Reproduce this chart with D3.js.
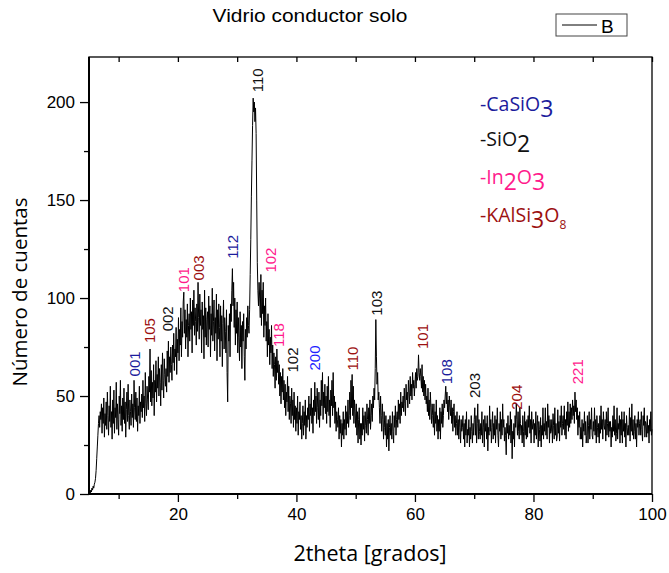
<!DOCTYPE html>
<html>
<head>
<meta charset="utf-8">
<script src="https://cdn.jsdelivr.net/npm/d3@7"></script>
<style>
  body { margin: 0; background: #fff; }
  svg { display: block; }
</style>
</head>
<body>
<svg id="chart" width="669" height="573"></svg>
<script>
// XRD scan: counts sampled every 0.1 degrees of 2theta, from 5 to 100 (one row per degree)
const angleStart = 5;
const angleStep = 0.1;
const counts = [
  0, 1, 0, 2, 1, 3, 2, 4, 3, 5,
  6, 8, 12, 18, 24, 30, 36, 40, 34, 42,
  38, 46, 31, 44, 36, 49, 29, 41, 35, 47,
  33, 52, 40, 30, 45, 37, 55, 34, 42, 28,
  48, 36, 53, 31, 44, 39, 57, 33, 46, 38,
  30, 50, 41, 58, 35, 45, 32, 49, 38, 54,
  36, 47, 29, 43, 52, 37, 56, 40, 33, 48,
  42, 35, 51, 39, 46, 34, 58, 44, 38, 52,
  37, 49, 32, 45, 40, 55, 36, 47, 42, 51,
  39, 58, 44, 50, 37, 62, 46, 40, 55, 48,
  43, 60, 52, 74, 47, 63, 45, 57, 49, 66,
  40, 58, 52, 68, 47, 61, 54, 70, 50, 64,
  57, 45, 66, 53, 72, 58, 49, 69, 61, 55,
  64, 52, 73, 60, 78, 57, 70, 62, 75, 66,
  58, 76, 67, 82, 63, 74, 70, 85, 61, 79,
  72, 90, 68, 84, 76, 95, 70, 88, 80, 98,
  103, 82, 94, 74, 89, 80, 97, 70, 86, 92,
  78, 100, 84, 93, 72, 99, 86, 104, 81, 95,
  88, 76, 97, 83, 108, 90, 79, 102, 86, 94,
  72, 98, 84, 91, 69, 104, 80, 95, 76, 89,
  93, 75, 101, 84, 96, 70, 92, 81, 105, 78,
  88, 99, 73, 90, 82, 102, 68, 94, 79, 97,
  85, 70, 96, 78, 91, 65, 87, 99, 74, 90,
  83, 72, 94, 62, 47, 86, 78, 92, 70, 97,
  88, 104, 115, 96, 108, 85, 100, 76, 94, 82,
  98, 72, 90, 80, 68, 93, 75, 86, 64, 88,
  78, 92, 70, 58, 84, 74, 90, 80, 96, 86,
  82, 94, 112, 130, 152, 170, 188, 202, 195, 200,
  190, 197, 184, 150, 118, 104, 96, 108, 100, 90,
  112, 86, 104, 92, 108, 80, 96, 86, 100, 78,
  88, 70, 92, 76, 84, 66, 80, 72, 86, 64,
  76, 60, 72, 66, 54, 70, 58, 74, 62, 68,
  56, 66, 50, 62, 46, 60, 52, 64, 48, 58,
  44, 56, 40, 52, 47, 60, 42, 55, 38, 50,
  46, 36, 54, 40, 48, 34, 52, 38, 45, 32,
  44, 36, 50, 30, 42, 38, 47, 33, 40, 28,
  36, 45, 30, 42, 35, 48, 28, 40, 34, 44,
  38, 50, 32, 46, 40, 54, 36, 44, 31, 48,
  40, 57, 42, 50, 36, 54, 44, 38, 52, 34,
  48, 40, 58, 45, 62, 38, 52, 44, 56, 41,
  50, 36, 55, 42, 60, 40, 48, 34, 53, 45,
  58, 40, 62, 44, 50, 36, 47, 32, 42, 38,
  34, 44, 28, 40, 31, 38, 24, 36, 30, 42,
  28, 38, 33, 45, 30, 42, 36, 48, 34, 40,
  52, 38, 58, 44, 61, 40, 55, 36, 48, 42,
  34, 46, 30, 42, 26, 38, 44, 28, 36, 25,
  36, 30, 44, 33, 40, 27, 42, 35, 31, 46,
  38, 30, 44, 36, 48, 33, 40, 46, 37, 50,
  44, 54, 48, 64, 89, 70, 56, 62, 48, 52,
  44, 36, 50, 40, 32, 46, 38, 28, 42, 34,
  30, 40, 24, 36, 28, 38, 22, 34, 40, 30,
  36, 28, 42, 32, 26, 40, 34, 45, 30, 38,
  42, 34, 48, 38, 46, 36, 52, 40, 47, 44,
  50, 42, 54, 46, 40, 56, 48, 52, 44, 58,
  52, 46, 60, 50, 56, 48, 62, 54, 58, 50,
  56, 62, 54, 64, 58, 60, 71, 62, 58, 64,
  60, 54, 66, 52, 60, 50, 58, 48, 56, 46,
  50, 42, 54, 40, 48, 38, 52, 44, 36, 46,
  40, 34, 46, 30, 42, 36, 48, 32, 40, 28,
  38, 32, 44, 28, 42, 36, 46, 34, 40, 48,
  44, 50, 55, 46, 52, 42, 48, 38, 50, 44,
  40, 48, 36, 44, 32, 42, 46, 34, 40, 30,
  36, 42, 30, 38, 28, 40, 34, 26, 38, 32,
  34, 40, 28, 36, 24, 38, 30, 42, 26, 33,
  30, 38, 24, 34, 28, 40, 32, 26, 36, 30,
  38, 44, 30, 40, 26, 36, 46, 28, 38, 32,
  28, 36, 30, 42, 26, 34, 38, 24, 40, 32,
  36, 28, 40, 22, 34, 30, 45, 32, 38, 26,
  34, 42, 28, 36, 30, 40, 26, 38, 33, 44,
  30, 24, 36, 32, 42, 28, 38, 30, 46, 34,
  38, 27, 34, 30, 20, 36, 31, 40, 28, 35,
  30, 42, 26, 38, 18, 32, 28, 36, 24, 40,
  34, 46, 38, 30, 42, 32, 28, 44, 36, 30,
  35, 26, 40, 32, 24, 42, 30, 37, 28, 38,
  29, 40, 34, 45, 31, 38, 26, 42, 33, 36,
  38, 26, 36, 30, 42, 28, 35, 40, 24, 37,
  33, 27, 39, 24, 35, 30, 44, 28, 36, 32,
  44, 30, 37, 28, 46, 34, 40, 26, 38, 31,
  32, 38, 26, 41, 35, 28, 44, 30, 36, 27,
  29, 43, 31, 37, 27, 40, 34, 45, 30, 36,
  40, 33, 45, 30, 38, 28, 42, 35, 47, 32,
  42, 34, 46, 36, 44, 38, 48, 40, 45, 36,
  52, 42, 48, 38, 44, 30, 40, 34, 42, 28,
  34, 28, 38, 24, 36, 32, 42, 30, 37, 26,
  30, 40, 26, 35, 42, 28, 38, 33, 44, 30,
  28, 37, 32, 44, 30, 38, 26, 40, 34, 29,
  36, 26, 40, 31, 45, 33, 38, 28, 42, 35,
  33, 38, 27, 42, 30, 36, 44, 29, 37, 32,
  37, 24, 34, 29, 40, 32, 45, 30, 38, 27,
  31, 44, 28, 36, 33, 40, 26, 38, 30, 42,
  26, 38, 32, 42, 29, 36, 24, 40, 34, 30,
  35, 30, 44, 27, 39, 32, 46, 30, 38, 28,
  32, 40, 28, 36, 24, 38, 34, 42, 30, 36,
  38, 30, 42, 33, 27, 40, 35, 44, 29, 37,
  36, 29, 40, 31, 35, 26, 38, 32, 42, 30,
  33
];

const xDomain = [5, 100];
const yDomain = [0, 223];
const xMajorTicks = [20, 40, 60, 80, 100];
const xMinorTicks = [10, 30, 50, 70, 90];
const yMajorTicks = [0, 50, 100, 150, 200];
const yMinorTicks = [25, 75, 125, 175];

// Phase colours
const phaseColor = {
  CaSiO3: "#1c1c9c",
  CaSiO3b: "#1f1fff",
  SiO2: "#111111",
  In2O3: "#ff1a8c",
  KAlSi3O8: "#9c1010"
};

// Miller-index labels: text, 2theta of the label, count where the label starts, phase
const peakText  = ["001", "105", "002", "101", "003", "112", "110", "102", "118", "102", "200", "110", "103", "101", "108", "203", "204", "221"];
const peakAngle = [12.76, 15.29, 18.33, 21.03, 23.56, 29.3, 33.4, 35.71, 37.06, 39.42, 43.14, 49.55, 53.6, 61.36, 65.41, 70.14, 77.22, 87.52];
const peakCount = [60, 77, 83, 103, 109, 120, 205, 113, 75, 62, 63, 63, 91, 74, 56, 49, 43, 56];
const peakPhase = ["CaSiO3", "KAlSi3O8", "SiO2", "In2O3", "KAlSi3O8", "CaSiO3", "SiO2", "In2O3", "In2O3", "SiO2", "CaSiO3b", "KAlSi3O8", "SiO2", "KAlSi3O8", "CaSiO3", "SiO2", "KAlSi3O8", "In2O3"];

// Phase key: formula pieces (n = normal, s = subscript, t = small subscript)
const phaseKeys = [
  { phase: "CaSiO3",   parts: [["-CaSiO", "n"], ["3", "s"]] },
  { phase: "SiO2",     parts: [["-SiO", "n"], ["2", "s"]] },
  { phase: "In2O3",    parts: [["-In", "n"], ["2", "s"], ["O", "n"], ["3", "s"]] },
  { phase: "KAlSi3O8", parts: [["-KAlSi", "n"], ["3", "s"], ["O", "n"], ["8", "t"]] }
];

const titleText = "Vidrio conductor solo";
const legendText = "B";
const xLabel = "2theta [grados]";
const yLabel = "Número de cuentas";

const svg = d3.select("#chart");
const plot = { left: 89, right: 652, top: 57, bottom: 494 };

const x = d3.scaleLinear().domain(xDomain).range([plot.left, plot.right]);
const y = d3.scaleLinear().domain(yDomain).range([plot.bottom, plot.top]);

const arial = "'Liberation Sans', Arial, sans-serif";
const humanist = "'Open Sans', 'Noto Sans', sans-serif";

// Frame (top and right edges)
svg.append("rect")
  .attr("x", plot.left).attr("y", plot.top)
  .attr("width", plot.right - plot.left).attr("height", plot.bottom - plot.top)
  .attr("fill", "none").attr("stroke", "#000").attr("stroke-width", 1.3);

// Scan trace
const series = counts.map((c, i) => ({ angle: angleStart + i * angleStep, c }));
const line = d3.line().x(d => x(d.angle)).y(d => y(d.c));
svg.append("path")
  .datum(series)
  .attr("d", line)
  .attr("fill", "none")
  .attr("stroke", "#000")
  .attr("stroke-width", 1)
  .attr("stroke-linejoin", "miter");

function styleAxis(g, fontSize) {
  g.selectAll("text").attr("font-family", arial).attr("font-size", fontSize).attr("fill", "#000");
  g.selectAll("line").attr("stroke", "#000").attr("stroke-width", 1.3);
}

// Bottom axis
const xMinorG = svg.append("g").attr("transform", `translate(0,${plot.bottom})`)
  .call(d3.axisBottom(x).tickValues(xMinorTicks).tickSize(5).tickFormat(""));
xMinorG.select(".domain").remove();
styleAxis(xMinorG, 17);
const xAxisG = svg.append("g").attr("transform", `translate(0,${plot.bottom})`)
  .call(d3.axisBottom(x).tickValues(xMajorTicks).tickSize(8).tickPadding(6).tickFormat(d3.format("d")));
xAxisG.select(".domain").attr("stroke", "#000").attr("stroke-width", 2).attr("d", `M${plot.left},0H${plot.right}`);
styleAxis(xAxisG, 17);

// Top axis, ticks pointing inward
const xTopG = svg.append("g").attr("transform", `translate(0,${plot.top})`)
  .call(d3.axisBottom(x).tickValues(xMinorTicks.concat(xMajorTicks)).tickSize(5).tickFormat(""));
xTopG.select(".domain").remove();
styleAxis(xTopG, 17);

// Left axis
const yMinorG = svg.append("g").attr("transform", `translate(${plot.left},0)`)
  .call(d3.axisLeft(y).tickValues(yMinorTicks).tickSize(5).tickFormat(""));
yMinorG.select(".domain").remove();
styleAxis(yMinorG, 17);
const yAxisG = svg.append("g").attr("transform", `translate(${plot.left},0)`)
  .call(d3.axisLeft(y).tickValues(yMajorTicks).tickSize(9).tickPadding(5).tickFormat(d3.format("d")));
yAxisG.select(".domain").attr("stroke", "#000").attr("stroke-width", 2).attr("d", `M0,${plot.bottom}V${plot.top}`);
styleAxis(yAxisG, 17);

// Miller indices over the peaks
svg.append("g").selectAll("text")
  .data(peakText.map((t, i) => ({ t, a: peakAngle[i], c: peakCount[i], p: peakPhase[i] })))
  .join("text")
  .attr("transform", d => `translate(${x(d.a)},${y(d.c)}) rotate(-90)`)
  .attr("dy", "0.36em")
  .attr("text-anchor", "start")
  .attr("font-family", arial)
  .attr("font-size", 15)
  .attr("fill", d => phaseColor[d.p])
  .text(d => d.t);

// Phase key
const keyG = svg.append("g");
const keyBaselines = [111, 146, 184, 222];
phaseKeys.forEach((k, i) => {
  const t = keyG.append("text")
    .attr("x", 480).attr("y", keyBaselines[i])
    .attr("font-family", humanist)
    .attr("font-size", 19.5)
    .attr("fill", phaseColor[k.phase]);
  let shift = 0;
  k.parts.forEach(([s, kind]) => {
    const span = t.append("tspan").text(s);
    let target = 0;
    if (kind === "s") { span.attr("font-size", 23); target = 6; }
    if (kind === "t") { span.attr("font-size", 12); target = 7; }
    span.attr("dy", target - shift);
    shift = target;
  });
});

// Title
svg.append("text")
  .attr("x", 310).attr("y", 22)
  .attr("text-anchor", "middle")
  .attr("font-family", arial)
  .attr("font-size", 19)
  .attr("transform", "translate(310,0) scale(1.1,1) translate(-310,0)")
  .text(titleText);

// Legend
const legendG = svg.append("g");
legendG.append("rect")
  .attr("x", 556).attr("y", 14).attr("width", 71).attr("height", 22)
  .attr("fill", "#fff").attr("stroke", "#444").attr("stroke-width", 1);
legendG.append("line")
  .attr("x1", 562).attr("x2", 597).attr("y1", 25).attr("y2", 25)
  .attr("stroke", "#000").attr("stroke-width", 1);
legendG.append("text")
  .attr("x", 601).attr("y", 33)
  .attr("font-family", arial).attr("font-size", 19)
  .text(legendText);

// Axis titles
svg.append("text")
  .attr("x", 370).attr("y", 561)
  .attr("text-anchor", "middle")
  .attr("font-family", humanist)
  .attr("font-size", 21.5)
  .text(xLabel);

svg.append("text")
  .attr("transform", "translate(27,292) rotate(-90)")
  .attr("text-anchor", "middle")
  .attr("font-family", humanist)
  .attr("font-size", 20.5)
  .text(yLabel);
</script>
</body>
</html>
